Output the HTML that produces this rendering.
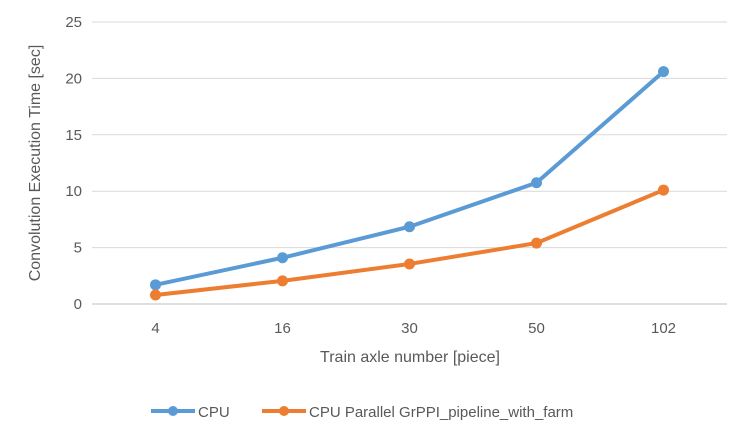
<!DOCTYPE html>
<html><head><meta charset="utf-8"><style>
body{margin:0;background:#fff;}
svg{display:block;font-family:"Liberation Sans",sans-serif;}
</style></head><body>
<svg id="chart" width="750" height="444">
<g id="grid"></g>
<g id="yticks"></g>
<g id="xticks"></g>
<g id="series"></g>
<text x="40" y="163" transform="rotate(-90 40 163)" text-anchor="middle" font-size="16" fill="#595959">Convolution Execution Time [sec]</text>
<text x="410" y="362" text-anchor="middle" font-size="16" fill="#595959">Train axle number [piece]</text>
<g>
<g>
<line x1="151" y1="411" x2="195" y2="411" stroke="#5B9BD5" stroke-width="4"/>
<circle cx="173" cy="411" r="5" fill="#5B9BD5"/>
<text x="198" y="417" font-size="15" fill="#595959">CPU</text></g>
<g>
<line x1="262" y1="411" x2="306" y2="411" stroke="#ED7D31" stroke-width="4"/>
<circle cx="284" cy="411" r="5" fill="#ED7D31"/>
<text x="309" y="417" font-size="15" fill="#595959">CPU Parallel GrPPI_pipeline_with_farm</text></g>
</g>
</svg>
<script>
const categories=["4","16","30","50","102"];
const cpuValues=[1.7,4.1,6.85,10.75,20.6];
const parallelValues=[0.8,2.05,3.55,5.4,10.1];
const yTicks=[0,5,10,15,20,25];
const NS="http://www.w3.org/2000/svg";
const left=92,right=727,y0=304,yTop=22,yMax=25;
const yS=v=>y0-(y0-yTop)*v/yMax;
const bw=(right-left)/categories.length;
const xS=i=>left+bw*(i+0.5);
function mk(t,a,p){const e=document.createElementNS(NS,t);for(const k in a)e.setAttribute(k,a[k]);p.appendChild(e);return e;}
const grid=document.getElementById('grid'),yt=document.getElementById('yticks'),xt=document.getElementById('xticks'),ser=document.getElementById('series');
yTicks.forEach(v=>{
 const l=mk('line',{x1:left,x2:right,y1:yS(v),y2:yS(v),stroke:v===0?'#BFBFBF':'#D9D9D9','stroke-width':1},grid);
 
 
 const t=mk('text',{x:left-10,y:yS(v)+5,'text-anchor':'end','font-size':15,fill:'#595959'},yt);
 t.textContent=v;
 
 
});
categories.forEach((c,i)=>{
 const t=mk('text',{x:xS(i),y:333,'text-anchor':'middle','font-size':15,fill:'#595959'},xt);
 t.textContent=c;
 
 
});
[[cpuValues,'#5B9BD5','cpu'],[parallelValues,'#ED7D31','parallel']].forEach(([vals,col,nm])=>{
 const pl=mk('polyline',{points:vals.map((v,i)=>xS(i)+','+yS(v)).join(' '),fill:'none',stroke:col,'stroke-width':4,'stroke-linejoin':'round'},ser);
 
 
 vals.forEach((v,i)=>{
  const c=mk('circle',{cx:xS(i),cy:yS(v),r:5.5,fill:col},ser);
  
  
 });
});
</script>
</body></html>
